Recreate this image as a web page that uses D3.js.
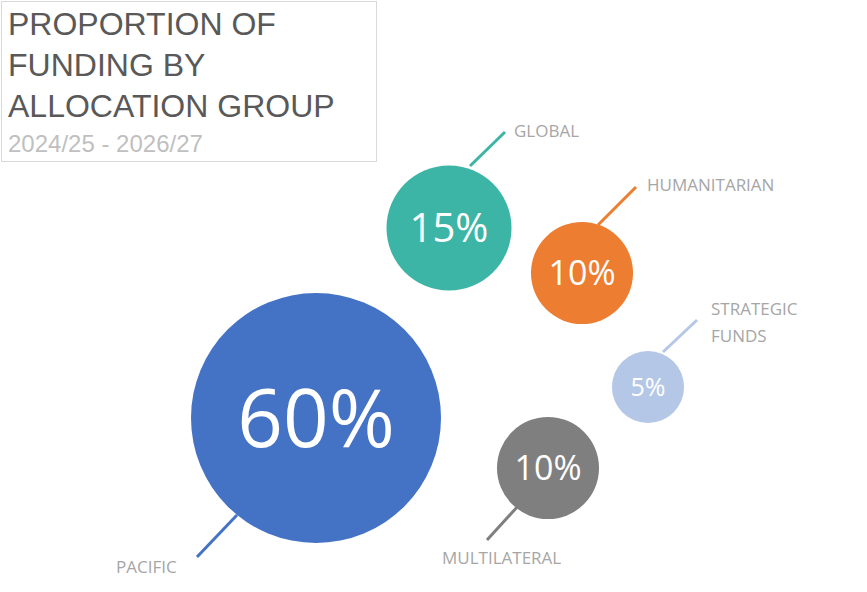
<!DOCTYPE html>
<html><head><meta charset="utf-8">
<script src="https://d3js.org/d3.v7.min.js"></script>
<style>body{margin:0;background:#fff}</style></head>
<body><svg id="c" width="867" height="592"></svg>
<script>
const categories = ["PACIFIC","GLOBAL","HUMANITARIAN","STRATEGIC FUNDS","MULTILATERAL"];
const shares = [60,15,10,5,10];
const colors = ["#4472C4","#3DB5A6","#ED7D31","#B4C7E7","#7F7F7F"];

const svg = d3.select("#c");
// layout (bubble centres, leader lines, label anchors)
const layout = [
  {cx:316,cy:418,l:[[237,515],[197,557]],tx:116,ty:573,fs:80},
  {cx:449,cy:228,l:[[470,166],[505,132]],tx:514,ty:137,fs:40},
  {cx:582,cy:273,l:[[598,225],[636,187]],tx:647,ty:191,fs:34},
  {cx:648,cy:387,l:[[663,352],[697,320]],tx:711,ty:315,fs:25},
  {cx:548,cy:468,l:[[519,505],[487,540]],tx:442,ty:564,fs:34}
];
const r = d3.scaleSqrt().domain([0,60]).range([0,125]);

svg.append("rect").attr("x",1.5).attr("y",1.5).attr("width",375).attr("height",160)
  .attr("fill","#fff").attr("stroke","#d9d9d9");
const title = ["PROPORTION OF","FUNDING BY","ALLOCATION GROUP"];
svg.selectAll(".t").data(title).join("text").attr("x",8).attr("y",(d,i)=>35+i*41)
  .attr("font-family","Liberation Sans, Arial").attr("font-size",32).attr("fill","#595959").text(d=>d);
svg.append("text").attr("x",8).attr("y",152).attr("font-family","Liberation Sans, Arial")
  .attr("font-size",24).attr("fill","#bfbfbf").text("2024/25 - 2026/27");

const g = svg.selectAll(".b").data(categories.map((c,i)=>({c,v:shares[i],col:colors[i],...layout[i]}))).join("g");
g.append("line").attr("x1",d=>d.l[0][0]).attr("y1",d=>d.l[0][1]).attr("x2",d=>d.l[1][0]).attr("y2",d=>d.l[1][1])
  .attr("stroke",d=>d.col).attr("stroke-width",3);
g.append("circle").attr("cx",d=>d.cx).attr("cy",d=>d.cy).attr("r",d=>r(d.v)).attr("fill",d=>d.col);
g.append("text").attr("x",d=>d.cx).attr("y",d=>d.cy).attr("dy","0.36em").attr("text-anchor","middle")
  .attr("font-family","Open Sans").attr("font-size",d=>d.fs).attr("fill","#fff").text(d=>d.v+"%");
g.each(function(d){
  const words = d.c==="STRATEGIC FUNDS"?["STRATEGIC","FUNDS"]:[d.c];
  d3.select(this).selectAll(".lb").data(words).join("text").attr("x",d.tx).attr("y",(w,i)=>d.ty+i*27)
    .attr("font-family","Open Sans").attr("font-size",17).attr("fill","#a6a6a6").text(w=>w);
});
</script></body></html>
